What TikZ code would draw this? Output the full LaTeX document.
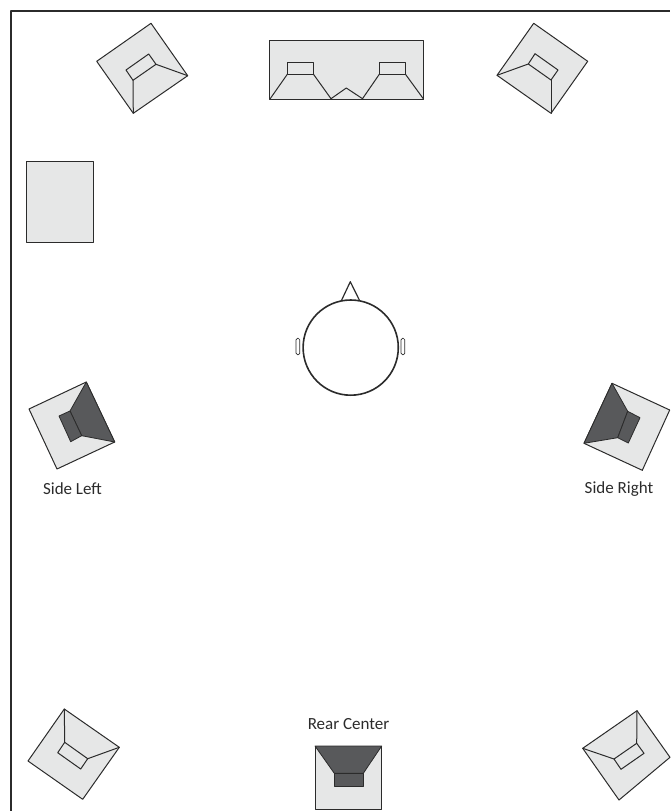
\documentclass[tikz,border=0pt]{standalone}
\usepackage{fontspec}
\setmainfont{Carlito}
\definecolor{panel}{HTML}{E6E7E7}
\definecolor{horn}{HTML}{58595B}
\definecolor{ink}{HTML}{2B2B2B}
\tikzset{
	cabinet/.style={fill=panel, draw=ink, line width=1pt},
	cone/.style={fill=horn, draw=ink, line width=0.8pt},
	edge/.style={draw=ink, line width=1pt},
	caption/.style={font=\fontsize{17}{19}\selectfont, text=ink, inner sep=0pt}
}
\begin{document}
\begin{tikzpicture}[x=1pt, y=-1pt, line join=round, line cap=round]
	\useasboundingbox (0,0) rectangle (670,811);
	\draw[draw=ink, line width=2pt, line cap=butt] (11,811) -- (11,11) -- (670,11);

	\filldraw[cabinet] (151,23.3) -- (187.7,75.7) -- (133.3,113.3) -- (96.7,61.3) -- cycle;
	\draw[edge] (148.7,54) -- (156,64.3) -- (133,80.3) -- (126,70) -- cycle;
	\draw[edge] (156,64.3) -- (187.7,75.7);
	\draw[edge] (133,80.3) -- (133.3,113.3);

	\filldraw[cabinet] (533.7,23.3) -- (587.7,61.3) -- (551,113.3) -- (497,75.3) -- cycle;
	\draw[edge] (535,53.7) -- (558,70) -- (551,80) -- (528.3,64) -- cycle;
	\draw[edge] (528.3,64) -- (497,75.3);
	\draw[edge] (551,80) -- (551,113.3);

	\filldraw[cabinet] (269.7,40.3) rectangle (423.7,99.3);
	\foreach \boxx in {287.3, 379.3} {
		\draw[edge] (\boxx,62.3) rectangle (\boxx+26.2,74.3);
	}
	\draw[edge] (270,99) -- (287.3,74.3);
	\draw[edge] (313.5,74.3) -- (331,98.7) -- (346.3,88) -- (362.5,98.7) -- (379.3,74.3);
	\draw[edge] (405.5,74.3) -- (423.5,99);

	\filldraw[cabinet] (26.7,161) rectangle (93.3,242);

	\draw[edge, line width=1.6pt] (350.7,347.6) circle (47.6);
	\draw[edge, line width=1.2pt] (341.7,300) -- (350.3,281.7) -- (359.3,300);
	\foreach \earx in {296, 401} {
		\draw[edge, line width=0.7pt, rounded corners=1.5pt] (\earx,338.3) rectangle (\earx+3.8,354.7);
	}

	\filldraw[cabinet] (86.3,382) -- (114.7,442) -- (57,469) -- (29,409) -- cycle;
	\filldraw[cone] (86.3,382) -- (70,411) -- (81.7,435.7) -- (114.7,442) -- cycle;
	\filldraw[cone] (59,416) -- (70,411) -- (81.7,435.7) -- (70.7,441.7) -- cycle;
	\node[caption] (sideleft) at (72.5,489) {Side Left};

	\filldraw[cabinet] (612,383.3) -- (669.7,410) -- (642.3,470.3) -- (584,443.3) -- cycle;
	\filldraw[cone] (612,383.3) -- (627.7,411.3) -- (617.7,437.7) -- (584,443.3) -- cycle;
	\filldraw[cone] (627.7,411.3) -- (640,417.7) -- (628.3,443) -- (617.7,437.7) -- cycle;
	\node[caption] (sideright) at (619,489) {Side Right};

	\filldraw[cabinet] (64.3,709) -- (119.3,747.3) -- (82.7,799.3) -- (28,761) -- cycle;
	\draw[edge] (64.7,742.3) -- (87.7,758.7) -- (80.7,769) -- (57.7,752.7) -- cycle;
	\draw[edge] (64.7,742.3) -- (64.3,709);
	\draw[edge] (87.7,758.7) -- (119.3,747.3);

	\filldraw[cabinet] (637,710.7) -- (670,757.3) -- (619,800) -- (582.7,748.3) -- cycle;
	\draw[edge] (636.7,743.3) -- (644,753.3) -- (621,769.3) -- (614,759) -- cycle;
	\draw[edge] (636.7,743.3) -- (637,710.7);
	\draw[edge] (614,759) -- (582.7,748.3);

	\filldraw[cabinet] (315,746) rectangle (381.7,809.3);
	\filldraw[cone] (315,746) -- (381.7,746) -- (363.3,773.3) -- (334.3,773.3) -- cycle;
	\filldraw[cone] (334.3,773.3) rectangle (363.3,786);
	\node[caption] (rearcenter) at (348.5,724) {Rear Center};
\end{tikzpicture}
\end{document}
